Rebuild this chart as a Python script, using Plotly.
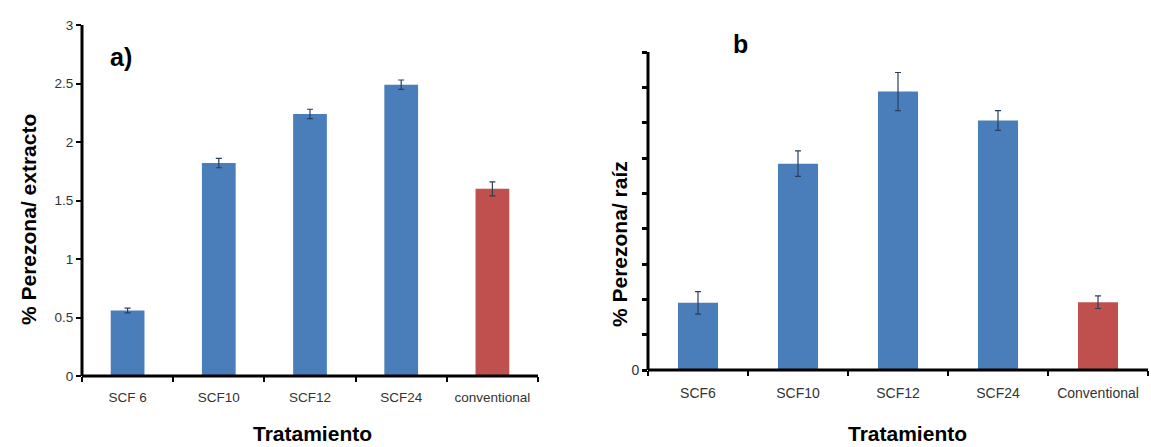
import plotly.graph_objects as go

W, H = 1151, 447

# Panel a)
cats_a = ["SCF 6", "SCF10", "SCF12", "SCF24", "conventional"]
vals_a = [0.56, 1.82, 2.24, 2.49, 1.60]
err_a = [0.02, 0.04, 0.04, 0.04, 0.06]

# Panel b
cats_b = ["SCF6", "SCF10", "SCF12", "SCF24", "Conventional"]
vals_b = [0.95, 2.92, 3.94, 3.53, 0.96]
err_b = [0.16, 0.18, 0.27, 0.14, 0.09]
ytick_b = [0, 0.5, 1, 1.5, 2, 2.5, 3, 3.5, 4, 4.5]
ytext_b = ["0"] + [""] * 9

BLUE = "#4A7EBB"
RED = "#C0504D"
colors_a = [BLUE, BLUE, BLUE, BLUE, RED]
colors_b = [BLUE, BLUE, BLUE, BLUE, RED]

fig = go.Figure()
fig.add_trace(go.Bar(x=cats_a, y=vals_a, width=0.37, marker=dict(color=colors_a, line=dict(width=0)),
                     error_y=dict(type="data", array=err_a, color="#2B3F5C", thickness=1.2, width=3),
                     xaxis="x", yaxis="y", showlegend=False))
fig.add_trace(go.Bar(x=cats_b, y=vals_b, width=0.40, marker=dict(color=colors_b, line=dict(width=0)),
                     error_y=dict(type="data", array=err_b, color="#2B3F5C", thickness=1.2, width=3),
                     xaxis="x2", yaxis="y2", showlegend=False))

FONT = "Arial, Liberation Sans, sans-serif"

fig.update_layout(
    template="none",
    width=W, height=H,
    margin=dict(l=0, r=0, t=0, b=0),
    paper_bgcolor="white", plot_bgcolor="white",
    xaxis=dict(domain=[82 / W, 538 / W], anchor="y", type="category",
               showline=False, ticklabelstandoff=11,
               ticks="outside", tickson="boundaries", ticklen=5, tickcolor="#000000", tickwidth=2,
               tickfont=dict(family=FONT, size=13.5, color="#333333"), showgrid=False, zeroline=False),
    yaxis=dict(domain=[(H - 376) / H, (H - 25) / H], anchor="x", range=[0, 3],
               tickvals=[0, 0.5, 1, 1.5, 2, 2.5, 3], ticktext=["0", "0.5", "1", "1.5", "2", "2.5", "3"],
               showline=False,
               ticks="outside", ticklen=5, tickcolor="#000000", tickwidth=2,
               tickfont=dict(family=FONT, size=13.5, color="#333333"),
               showgrid=False, zeroline=False),
    xaxis2=dict(domain=[648 / W, 1148 / W], anchor="y2", type="category",
                showline=False, ticklabelstandoff=13,
                ticks="outside", tickson="boundaries", ticklen=5, tickcolor="#000000", tickwidth=2,
                tickfont=dict(family=FONT, size=14, color="#333333"),
                showgrid=False, zeroline=False),
    yaxis2=dict(domain=[(H - 370) / H, (H - 52) / H], anchor="x2", range=[0, 4.5],
                tickvals=ytick_b, ticktext=ytext_b,
                showline=False,
                ticks="outside", ticklen=5, tickcolor="#000000", tickwidth=3,
                tickfont=dict(family=FONT, size=14, color="#333333"),
                showgrid=False, zeroline=False),
)

# Axis lines as solid 3-px black strips along the left and bottom edges of each plot area
shapes = []
for xr, yr in (("x domain", "y domain"), ("x2 domain", "y2 domain")):
    shapes.append(dict(type="rect", xref=xr, yref=yr, xsizemode="pixel", xanchor=0,
                       x0=-1.5, x1=1.5, y0=0, y1=1,
                       fillcolor="black", line=dict(width=0), layer="above"))
    shapes.append(dict(type="rect", xref=xr, yref=yr, ysizemode="pixel", yanchor=0,
                       x0=0, x1=1, y0=-1.5, y1=1.5,
                       fillcolor="black", line=dict(width=0), layer="above"))
fig.update_layout(shapes=shapes)

bold = dict(family=FONT, size=21, color="black")
ann = [
    dict(text="<b>a)</b>", x=108 / W, y=(H - 57) / H, xanchor="left", yanchor="middle",
         font=dict(family=FONT, size=25, color="black")),
    dict(text="<b>b</b>", x=731 / W, y=(H - 44) / H, xanchor="left", yanchor="middle",
         font=dict(family=FONT, size=25, color="black")),
    dict(text="<b>% Perezona/ extracto</b>", x=28 / W, y=(H - 220) / H, textangle=-90,
         xanchor="center", yanchor="middle", font=bold),
    dict(text="<b>% Perezona/ raíz</b>", x=619 / W, y=(H - 244) / H, textangle=-90,
         xanchor="center", yanchor="middle", font=bold),
    dict(text="<b>Tratamiento</b>", x=312 / W, y=(H - 433) / H, xanchor="center", yanchor="middle", font=bold),
    dict(text="<b>Tratamiento</b>", x=907 / W, y=(H - 433) / H, xanchor="center", yanchor="middle", font=bold),
]
for a in ann:
    a.update(xref="paper", yref="paper", showarrow=False)
fig.update_layout(annotations=ann)

fig.write_html("out.html")
